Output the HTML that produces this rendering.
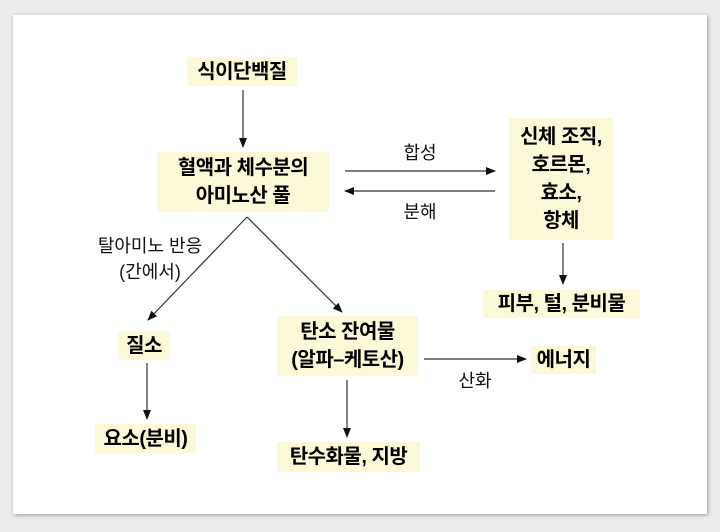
<!DOCTYPE html>
<html><head><meta charset="utf-8"><style>
body{margin:0;width:720px;height:532px;background:#ececec;position:relative;overflow:hidden;font-family:"Liberation Sans","Noto Sans CJK KR",sans-serif;}
.panel{position:absolute;left:13px;top:15px;width:694px;height:499px;background:#fff;box-shadow:1px 1px 4px rgba(0,0,0,.35);}
.b{position:absolute;background:#fcf9d8;font-weight:bold;font-size:20px;color:#000;text-align:center;display:flex;align-items:center;justify-content:center;line-height:28px;letter-spacing:-0.5px;white-space:nowrap;}
.l{position:absolute;font-size:18px;color:#111;text-align:center;line-height:26px;white-space:nowrap;}
svg{position:absolute;left:0;top:0;}
</style></head><body>
<div class="panel"></div>
<svg width="720" height="532"><defs><marker id="a" markerWidth="10" markerHeight="10" refX="9" refY="5" orient="auto" markerUnits="userSpaceOnUse"><path d="M0,1 L10,5 L0,9z" fill="#111"/></marker></defs>
<g stroke="#333" stroke-width="1.2" fill="none">
<line x1="243" y1="90" x2="243" y2="147" marker-end="url(#a)"/>
<line x1="345" y1="171" x2="495" y2="171" marker-end="url(#a)"/>
<line x1="495" y1="191" x2="345" y2="191" marker-end="url(#a)"/>
<line x1="563" y1="243" x2="563" y2="284" marker-end="url(#a)"/>
<line x1="247" y1="217" x2="148" y2="320" marker-end="url(#a)"/>
<line x1="247" y1="217" x2="342" y2="312" marker-end="url(#a)"/>
<line x1="147" y1="363" x2="147" y2="419" marker-end="url(#a)"/>
<line x1="347" y1="380" x2="347" y2="437" marker-end="url(#a)"/>
<line x1="424" y1="359" x2="526" y2="359" marker-end="url(#a)"/>
</g></svg>
<div class="b" style="left:187px;top:57px;width:110px;height:29px">식이단백질</div>
<div class="b" style="left:157px;top:152px;width:172px;height:60px">혈액과 체수분의<br>아미노산 풀</div>
<div class="b" style="left:509px;top:118px;width:104px;height:122px">신체 조직,<br>호르몬,<br>효소,<br>항체</div>
<div class="b" style="left:483px;top:290px;width:157px;height:28px">피부, 털, 분비물</div>
<div class="b" style="left:118px;top:331px;width:52px;height:29px">질소</div>
<div class="b" style="left:277px;top:316px;width:141px;height:60px">탄소 잔여물<br>(알파–케토산)</div>
<div class="b" style="left:531px;top:346px;width:65px;height:28px">에너지</div>
<div class="b" style="left:95px;top:424px;width:101px;height:29px">요소(분비)</div>
<div class="b" style="left:277px;top:442px;width:143px;height:30px">탄수화물, 지방</div>
<div class="l" style="left:390px;top:140px;width:60px">합성</div>
<div class="l" style="left:390px;top:199px;width:60px">분해</div>
<div class="l" style="left:70px;top:233px;width:160px">탈아미노 반응<br>(간에서)</div>
<div class="l" style="left:445px;top:368px;width:60px">산화</div>
</body></html>
